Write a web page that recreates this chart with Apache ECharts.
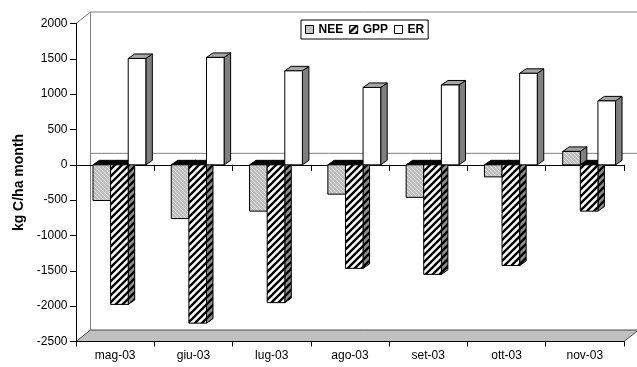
<!DOCTYPE html>
<html><head><meta charset="utf-8">
<script src="https://cdn.jsdelivr.net/npm/echarts@6/dist/echarts.min.js"></script>
<style>html,body{margin:0;padding:0;background:#fff}#c{width:637px;height:367px}</style>
</head><body><div id="c"></div>
<script>
const categories = ['mag-03','giu-03','lug-03','ago-03','set-03','ott-03','nov-03'];
const seriesNames = ['NEE','GPP','ER'];
const neeValues = [-505, -760, -655, -415, -460, -170, 190];
const gppValues = [-1975, -2240, -1950, -1465, -1550, -1425, -655];
const erValues  = [1505, 1520, 1330, 1095, 1130, 1295, 905];
const yMin = -2500, yMax = 2000, yStep = 500;

const FONT = 'Liberation Sans, Arial, sans-serif';

function makePattern(size, bg, fg, lw, dir) {
  const c = document.createElement('canvas');
  c.width = size; c.height = size;
  const g = c.getContext('2d');
  g.fillStyle = bg; g.fillRect(0, 0, size, size);
  g.strokeStyle = fg; g.lineWidth = lw;
  g.beginPath();
  for (let k = -1; k <= 1; k++) {
    if (dir === '/') { g.moveTo(k*size - 1, size + 1); g.lineTo(k*size + size + 1, -1); }
    else { g.moveTo(k*size - 1, -1); g.lineTo(k*size + size + 1, size + 1); }
  }
  g.stroke();
  return { image: c, repeat: 'repeat' };
}

const neeFront = makePattern(4, '#bdbdbd', '#e0e0e0', 1, '\\');
const gppFront = makePattern(7, '#ffffff', '#000000', 2.4, '/');
const gppSide  = makePattern(7, '#909090', '#000000', 2.4, '/');

const styles = [
  { front: neeFront, side: '#808080', topPos: '#a0a0a0', topNeg: '#000000' },
  { front: gppFront, side: gppSide, topPos: '#a0a0a0', topNeg: '#000000' },
  { front: '#ffffff', side: '#808080', topPos: '#a6a6a6', topNeg: '#000000' }
];

const DX = 6.5, DY = -4.5;
const OFF0 = 0.217, BW = 0.225;

function barRenderer(k) {
  const st = styles[k];
  return function (params, api) {
    const i = api.value(0), v = api.value(1);
    const base = api.coord([i, 0]);
    const tip = api.coord([i, v]);
    const band = api.size([1, 0])[0];
    const w = band * BW;
    const x0 = base[0] - band / 2 + band * OFF0 + k * w;
    const x1 = x0 + w;
    const yTop = Math.min(base[1], tip[1]);
    const yBot = Math.max(base[1], tip[1]);
    const topFill = v >= 0 ? st.topPos : st.topNeg;
    const stroke = { stroke: '#000', lineWidth: 1 };
    return {
      type: 'group',
      children: [
        { type: 'polygon', shape: { points: [[x1, yTop], [x1 + DX, yTop + DY], [x1 + DX, yBot + DY], [x1, yBot]] },
          style: Object.assign({ fill: st.side }, stroke) },
        { type: 'polygon', shape: { points: [[x0, yTop], [x0 + DX, yTop + DY], [x1 + DX, yTop + DY], [x1, yTop]] },
          style: Object.assign({ fill: topFill }, stroke) },
        { type: 'rect', shape: { x: x0, y: yTop, width: w, height: yBot - yTop },
          style: Object.assign({ fill: st.front }, stroke) }
      ]
    };
  };
}

function wallsRenderer(params, api) {
  const cs = params.coordSys;
  const x0 = cs.x, x1 = cs.x + cs.width, yt = cs.y, yb = cs.y + cs.height;
  const y0 = api.coord([0, 0])[1];
  const wx = 14.5, wy = -11.5;
  const gray = { stroke: '#808080', lineWidth: 1 };
  return {
    type: 'group',
    children: [
      { type: 'polygon', shape: { points: [[x0, yb], [x1, yb], [x1 + wx, yb + wy], [x0 + wx, yb + wy]] },
        style: { fill: '#c0c0c0', stroke: '#4a4a4a', lineWidth: 1 } },
      { type: 'line', shape: { x1: x0 + wx, y1: yt + wy, x2: x0 + wx, y2: yb + wy }, style: gray },
      { type: 'line', shape: { x1: x0 + wx, y1: yt + wy, x2: x1 + wx + 20, y2: yt + wy }, style: gray },
      { type: 'line', shape: { x1: x0, y1: yt, x2: x0 + wx, y2: yt + wy }, style: gray },
      { type: 'line', shape: { x1: x0 + wx, y1: y0 + wy, x2: x1 + wx + 20, y2: y0 + wy }, style: gray }
    ]
  };
}

const seriesData = [neeValues, gppValues, erValues];
const fronts = [neeFront, gppFront, '#ffffff'];

const chart = echarts.init(document.getElementById('c'), null, { renderer: 'canvas' });
chart.setOption({
  animation: false,
  backgroundColor: '#ffffff',
  textStyle: { fontFamily: FONT },
  grid: { left: 76, top: 23.5, width: 548, height: 318, containLabel: false },
  legend: {
    left: 301, top: 20, orient: 'horizontal', selectedMode: false,
    itemWidth: 8, itemHeight: 8, itemGap: 6,
    padding: [3, 4, 3, 4],
    borderColor: '#000', borderWidth: 1, backgroundColor: '#fff',
    textStyle: { fontFamily: FONT, fontWeight: 'bold', fontSize: 12, color: '#000', lineHeight: 13 },
    data: seriesNames.map((n, k) => ({ name: n, icon: 'rect',
      itemStyle: { color: fronts[k], borderColor: '#000', borderWidth: 1 } }))
  },
  xAxis: [
    { type: 'category', data: categories, position: 'bottom', boundaryGap: true,
      axisLine: { show: true, onZero: false, lineStyle: { color: '#000', width: 1 } },
      axisTick: { show: true, length: 5, lineStyle: { color: '#000' } },
      axisLabel: { fontSize: 12, color: '#000', fontFamily: FONT, margin: 8 },
      splitLine: { show: false } },
    { type: 'category', data: categories, position: 'bottom', boundaryGap: true,
      axisLine: { show: true, onZero: true, lineStyle: { color: '#000', width: 1 } },
      axisTick: { show: true, length: 6, lineStyle: { color: '#000' } },
      axisLabel: { show: false }, splitLine: { show: false } }
  ],
  yAxis: {
    type: 'value', min: yMin, max: yMax, interval: yStep,
    axisLine: { show: true, lineStyle: { color: '#000', width: 1 } },
    axisTick: { show: true, length: 6, lineStyle: { color: '#000' } },
    axisLabel: { fontSize: 12, color: '#000', fontFamily: FONT, margin: 8.5,
      formatter: function (v) { return String(v); } },
    splitLine: { show: false },
    name: 'kg C/ha month', nameLocation: 'middle', nameGap: 46,
    nameTextStyle: { fontSize: 14, fontWeight: 'bold', color: '#000', fontFamily: FONT }
  },
  series: [
    { type: 'custom', name: '_walls', coordinateSystem: 'cartesian2d', silent: true, z: -1,
      data: [[0, 0]], renderItem: wallsRenderer }
  ].concat(seriesNames.map((n, k) => ({
    type: 'custom', name: n, coordinateSystem: 'cartesian2d', xAxisIndex: 0, yAxisIndex: 0,
    z: 3 + k, clip: false,
    itemStyle: { color: fronts[k], borderColor: '#000', borderWidth: 1 },
    encode: { x: 0, y: 1 },
    data: seriesData[k].map((v, i) => [i, v]),
    renderItem: barRenderer(k)
  })))
});
</script>
</body></html>
